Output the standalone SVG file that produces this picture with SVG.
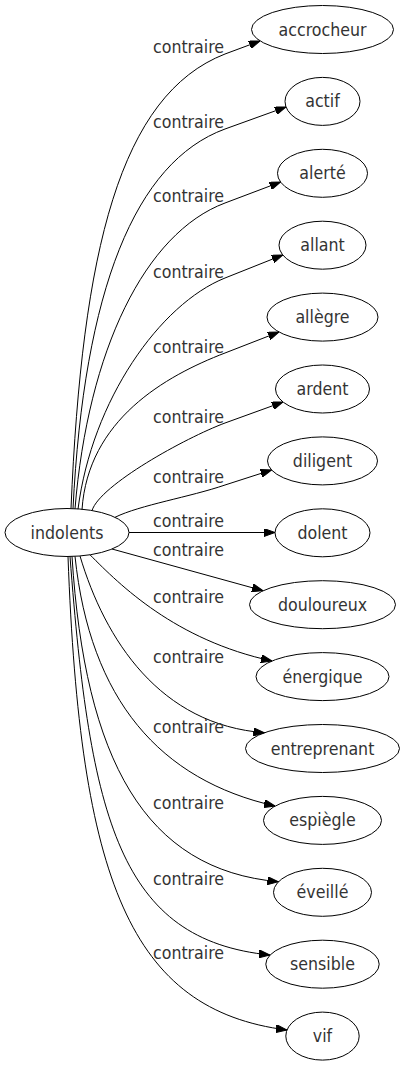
<svg xmlns="http://www.w3.org/2000/svg" width="407" height="1067" viewBox="0 0 407 1067">
<style>
text{font-family:"DejaVu Sans Condensed","DejaVu Sans","Liberation Sans",sans-serif;font-stretch:condensed;font-size:17.6px;fill:#333333}
.n{text-anchor:middle}
.lb{text-anchor:start}
ellipse{fill:none;stroke:#000;stroke-width:1}
.e path{fill:none;stroke:#000;stroke-width:1;marker-end:url(#ah)}
</style>
<defs>
<marker id="ah" markerWidth="11" markerHeight="8" refX="11" refY="4" orient="auto" markerUnits="userSpaceOnUse"><path d="M0,0 L11,4 L0,8 z" fill="#000" stroke="#000" stroke-width="1"/></marker>
</defs>
<rect width="407" height="1067" fill="#fff"/>
<g id="edges" class="e">
<path d="M71,508.5 C82,250 120,95 225,54 L260,41"/>
<path d="M73,508.6 C84,290 135,162 225,129 L286,107"/>
<path d="M75,508.8 C88,350 145,233 225,203 L280.6,182"/>
<path d="M78,509.2 C92,400 160,304 225,278 L282.8,255"/>
<path d="M82,509.6 C88,420 165,376 225,353 L279,332"/>
<path d="M92,510.6 C100,485 185,438 225,423 L283,402"/>
<path d="M115,517.3 C140,505 190,497 225,485 L271.6,470"/>
<path d="M129,532.5 L275,532.5"/>
<path d="M112,549 L263,590.7"/>
<path d="M90,554.8 C120,585 175,640 272,661"/>
<path d="M80,556 C105,640 160,725 264.5,732.7"/>
<path d="M75,556.3 C90,700 160,780 275,806"/>
<path d="M72,556.4 C85,760 145,870 278.5,881.7"/>
<path d="M70,556.4 C90,820 120,940 270,955"/>
<path d="M68,556.5 C80,880 130,1010 287,1030"/>
</g>
<g id="edge-labels">
<text class="lb" x="153" y="52.7">contraire</text>
<text class="lb" x="153" y="127.7">contraire</text>
<text class="lb" x="153" y="202">contraire</text>
<text class="lb" x="153" y="277.7">contraire</text>
<text class="lb" x="153" y="352.7">contraire</text>
<text class="lb" x="153" y="422.7">contraire</text>
<text class="lb" x="153" y="482.7">contraire</text>
<text class="lb" x="153" y="526.7">contraire</text>
<text class="lb" x="153" y="555.7">contraire</text>
<text class="lb" x="153" y="602.7">contraire</text>
<text class="lb" x="153" y="662.7">contraire</text>
<text class="lb" x="153" y="732.7">contraire</text>
<text class="lb" x="153" y="809">contraire</text>
<text class="lb" x="153" y="885">contraire</text>
<text class="lb" x="153" y="959">contraire</text>
</g>
<g id="indolents"><ellipse cx="67" cy="532.5" rx="62" ry="24"/><text class="n" x="67" y="538.5">indolents</text></g>
<g id="accrocheur"><ellipse cx="322.5" cy="29.5" rx="71" ry="24"/><text class="n" x="322.5" y="35.5">accrocheur</text></g>
<g id="actif"><ellipse cx="322.5" cy="101.4" rx="37.5" ry="24"/><text class="n" x="322.5" y="107.4">actif</text></g>
<g id="alerte"><ellipse cx="322.5" cy="173.3" rx="45" ry="24"/><text class="n" x="322.5" y="179.3">alerté</text></g>
<g id="allant"><ellipse cx="322.5" cy="245.2" rx="43.5" ry="24"/><text class="n" x="322.5" y="251.2">allant</text></g>
<g id="allegre"><ellipse cx="322.5" cy="317.1" rx="55.5" ry="24"/><text class="n" x="322.5" y="323.1">allègre</text></g>
<g id="ardent"><ellipse cx="322.5" cy="389" rx="47" ry="24"/><text class="n" x="322.5" y="395">ardent</text></g>
<g id="diligent"><ellipse cx="322.5" cy="460.9" rx="55" ry="24"/><text class="n" x="322.5" y="466.9">diligent</text></g>
<g id="dolent"><ellipse cx="322.5" cy="532.8" rx="47.5" ry="24"/><text class="n" x="322.5" y="538.8">dolent</text></g>
<g id="douloureux"><ellipse cx="322.5" cy="604.7" rx="73" ry="24"/><text class="n" x="322.5" y="610.7">douloureux</text></g>
<g id="energique"><ellipse cx="322.5" cy="676.6" rx="66.5" ry="24"/><text class="n" x="322.5" y="682.6">énergique</text></g>
<g id="entreprenant"><ellipse cx="322.5" cy="748.5" rx="77" ry="24"/><text class="n" x="322.5" y="754.5">entreprenant</text></g>
<g id="espiegle"><ellipse cx="322.5" cy="820.4" rx="59" ry="24"/><text class="n" x="322.5" y="826.4">espiègle</text></g>
<g id="eveille"><ellipse cx="322.5" cy="892.3" rx="49" ry="24"/><text class="n" x="322.5" y="898.3">éveillé</text></g>
<g id="sensible"><ellipse cx="322.5" cy="964.2" rx="56.7" ry="24"/><text class="n" x="322.5" y="970.2">sensible</text></g>
<g id="vif"><ellipse cx="322.5" cy="1036.1" rx="36.7" ry="24"/><text class="n" x="322.5" y="1042.1">vif</text></g>
</svg>
